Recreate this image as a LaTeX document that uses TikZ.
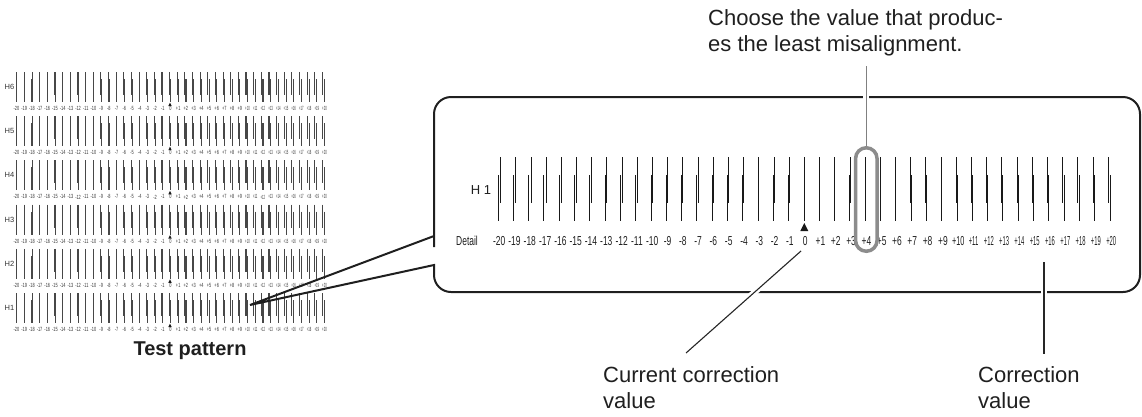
\documentclass[tikz,border=0pt]{standalone}
\usepackage{fontspec}
\setmainfont{Liberation Sans}
\newfontfamily\narrowf[FakeStretch=0.65]{Liberation Sans}
\newfontfamily\narrowh[FakeStretch=0.56]{Liberation Sans}
\newfontfamily\narrowg[FakeStretch=0.45]{Liberation Sans}
\begin{document}
\begin{tikzpicture}[x=1pt,y=-1pt,
  lbl/.style={inner sep=0pt, anchor=north west, align=left, font=\fontsize{22}{26.5}\selectfont, text=black!88},
  boldlbl/.style={inner sep=0pt, font=\fontsize{20}{24}\selectfont\bfseries, text=black!88},
  detlab/.style={inner sep=0pt, font=\fontsize{13}{14}\selectfont, text=black!88},
  tinylab/.style={inner sep=0pt, font=\fontsize{6}{7}\selectfont, text=black!80},
  tplab/.style={inner sep=0pt, font=\fontsize{7.5}{8}\selectfont, text=black!80},
  detline/.style={draw=black!90, line width=1pt},
  tpline/.style={draw=black!72, line width=1.1pt},
  boxline/.style={draw=black!88, line width=2pt},
  capsule/.style={draw=black!45, line width=3.5pt, rounded corners=10.75pt, minimum width=21.5pt, minimum height=103.5pt, inner sep=0pt},
  halo/.style={preaction={draw=white, line width=6pt}},
  leadgray/.style={draw=black!50, line width=1.5pt, halo},
  leaddark/.style={draw=black!85, line width=1.1pt, halo},
  marker/.style={fill=black!90}
]
\useasboundingbox (0,0) rectangle (1142,416);

% ---------- small test pattern ----------
\foreach \r in {0,...,5}{
  \pgfmathsetmacro\yc{87+44.2*\r}
  \pgfmathtruncatemacro\hn{6-\r}
  \node[tplab] (th\hn) at (9.5,\yc) {H\hn};
  \foreach \k in {-20,...,20}{
    \pgfmathsetmacro\xx{170+7.7*\k}
    \pgfmathsetmacro\xt{\xx+(4-\k)*0.06}
    \pgfmathtruncatemacro\idx{\k+20}
    \draw[tpline] (\xt-0.6,\yc-15) -- (\xt-0.6,\yc+8);
    \draw[tpline] (\xx+0.6,\yc-8) -- (\xx+0.6,\yc+15);
    \ifnum\k<0 \def\lab{\narrowf\k}\else\ifnum\k=0 \def\lab{\narrowf 0}\else\ifnum\k>9 \def\lab{\narrowg +\k}\else\def\lab{\narrowf +\k}\fi\fi\fi
    \node[tinylab] (t\hn l\idx) at (\xx+0.5,\yc+21.5) {\lab};
  }
  \fill[marker] (168.3,\yc+19) -- (171.7,\yc+19) -- (170,\yc+15.5) -- cycle;
}
\node[boldlbl] (tp) at (190,351) {Test pattern};

% ---------- callout box ----------
\draw[boxline, line join=miter]
  (250,305) -- (434,265) -- (434,270)
  [rounded corners=17pt] -- (434,292) -- (1140,292) -- (1140,97) -- (434,97) -- (434,230)
  [sharp corners] -- (434,236) -- (250,305);

% ---------- detail lines ----------
\foreach \k in {-20,...,20}{
  \pgfmathsetmacro\xx{804+15.3*\k}
  \pgfmathsetmacro\xt{\xx+(4-\k)*0.11}
  \draw[detline] (\xt,157) -- (\xt,203);
  \draw[detline] (\xx,175) -- (\xx,221);
}
\node[detlab] (h1) at (481,190) {H\ 1};
\node[detlab, anchor=east] (detail) at (478,241) {\narrowf Detail};
\foreach \k in {-20,...,20}{
  \pgfmathsetmacro\xx{804+15.3*\k}
  \pgfmathtruncatemacro\idx{\k+20}
  \ifnum\k<0 \def\lab{\narrowf\k}\else\ifnum\k=0 \def\lab{\narrowf 0}\else\ifnum\k>10 \def\lab{\narrowg +\k}\else\ifnum\k=10 \def\lab{\narrowh +\k}\else\def\lab{\narrowf +\k}\fi\fi\fi\fi
  \node[detlab] (dl\idx) at (\xx+1.2,241) {\lab};
}
\fill[marker] (800.3,231) -- (808.3,231) -- (804.3,223) -- cycle;

% ---------- highlight capsule ----------
\node[capsule] (cap) at (866.3,199.5) {};

% ---------- texts ----------
\node[lbl] (choose) at (708,9) {Choose the value that produc-\\es the least misalignment.};
\node[lbl] (cur) at (603,366) {Current correction\\value};
\node[lbl] (corr) at (978,366) {Correction\\value};

% ---------- leaders ----------
\coordinate (chooseend) at (866.3,66);
\coordinate (curtop) at (801,251);
\coordinate (curend) at (686,353);
\coordinate (corrtop) at (1044,262);
\coordinate (corrend) at (1044,354);
\draw[leadgray] (cap.north) -- (chooseend);
\draw[leaddark] (curtop) -- (curend);
\draw[leaddark] (corrtop) -- (corrend);
\end{tikzpicture}
\end{document}
